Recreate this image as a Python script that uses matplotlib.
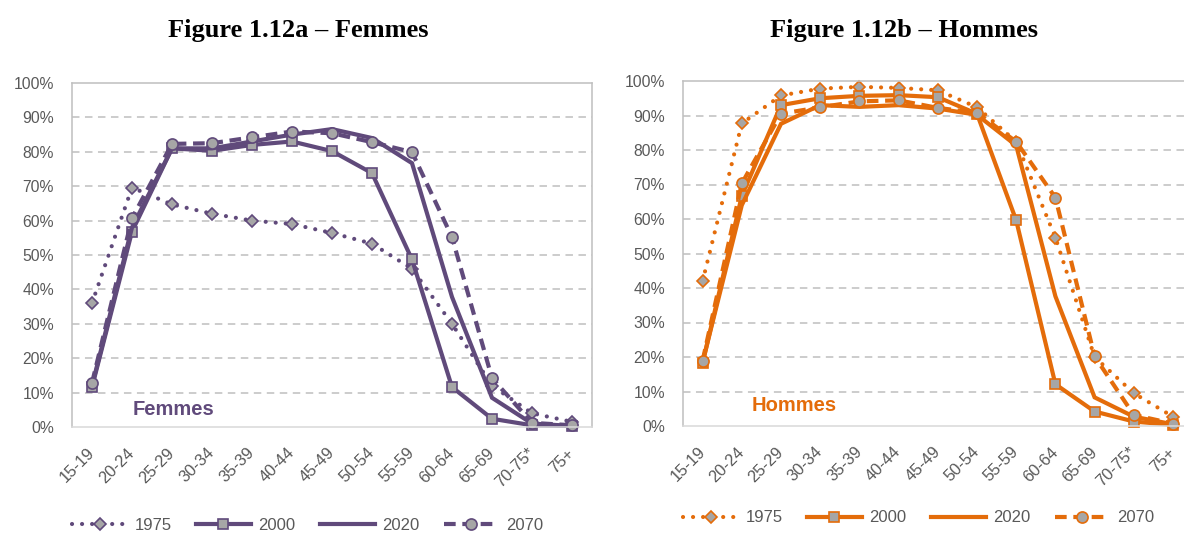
import matplotlib
matplotlib.use("Agg")
import matplotlib.pyplot as plt

ages = ['15-19', '20-24', '25-29', '30-34', '35-39', '40-44', '45-49',
        '50-54', '55-59', '60-64', '65-69', '70-75*', '75+']
years = ['1975', '2000', '2020', '2070']

f_1975 = [36, 69.6, 64.7, 62, 60, 59, 56.4, 53.3, 46, 30, 12, 4, 1.5]
f_2000 = [11.6, 56.8, 81, 80.3, 82, 83, 80.2, 73.8, 48.7, 11.6, 2.4, 0.5, 0.3]
f_2020 = [12, 58, 81, 81, 83, 85, 86.6, 84, 76.7, 37.8, 8.5, 1, 0.3]
f_2070 = [12.8, 60.7, 82.3, 82.5, 84.2, 85.9, 85.4, 82.8, 79.9, 55.2, 14.2, 1.2, 0.5]

h_1975 = [42, 87.7, 95.8, 97.8, 98.3, 98, 97.3, 92.4, 82.4, 54.6, 20, 9.5, 2.7]
h_2000 = [18.2, 66.7, 93, 95, 95.7, 95.9, 95.3, 90.5, 59.6, 12.1, 4.2, 1.3, 0.3]
h_2020 = [18.5, 64, 87.6, 93, 92.5, 93, 92, 90.2, 81.3, 37.6, 8.3, 2.7, 0.5]
h_2070 = [18.9, 70.3, 90.5, 92.4, 94.1, 94.4, 92.2, 90.8, 82.4, 66.2, 20.2, 3.2, 0.7]

yticks = list(range(0, 101, 10))

PURPLE = '#604A7B'
ORANGE = '#E46C0A'
GREY_FILL = '#A6A6A6'
TXT = '#595959'

plt.rcParams['font.family'] = ['Liberation Sans', 'DejaVu Sans']

W, H = 1184, 533
fig = plt.figure(figsize=(W / 100, H / 100), dpi=100)
fig.patch.set_facecolor('white')


def px_rect(x0, x1, y_top, y_bot):
    return [x0 / W, (H - y_bot) / H, (x1 - x0) / W, (y_bot - y_top) / H]


def styles(color):
    lw = 3.0
    return [
        dict(color=color, lw=lw, linestyle=(0, (0.01, 2.4)), dash_capstyle='round',
             marker='D', markersize=6.5, markerfacecolor=GREY_FILL,
             markeredgecolor=color, markeredgewidth=1.2),
        dict(color=color, lw=lw, linestyle='-', solid_joinstyle='miter',
             marker='s', markersize=7.5, markerfacecolor=GREY_FILL,
             markeredgecolor=color, markeredgewidth=1.2),
        dict(color=color, lw=lw, linestyle='-', solid_joinstyle='miter'),
        dict(color=color, lw=lw, linestyle=(0, (2.8, 1.6)), dash_capstyle='butt',
             marker='o', markersize=8, markerfacecolor=GREY_FILL,
             markeredgecolor=color, markeredgewidth=1.2),
    ]


def draw(rect, series, color, label, label_xy, title, title_x, legend_xy):
    ax = fig.add_axes(rect)
    x = list(range(len(ages)))
    st = styles(color)
    handles = []
    for s, yr, kw in zip(series, years, st):
        ln, = ax.plot(x, s, clip_on=False, label=yr, **kw)
        handles.append(ln)
    ax.set_xlim(-0.5, len(ages) - 0.5)
    ax.set_ylim(0, 100)
    ax.set_yticks(yticks)
    ax.set_yticklabels([f'{v}%' for v in yticks])
    ax.set_xticks(x)
    ax.set_xticklabels(ages, rotation=45, ha='right', va='center',
                       rotation_mode='anchor')
    ax.tick_params(axis='x', length=0, pad=17, labelsize=11.8, labelcolor=TXT)
    ax.tick_params(axis='y', length=0, pad=13, labelsize=11.3, labelcolor=TXT)
    ax.yaxis.grid(True, color='#BFBFBF', lw=1.1, linestyle=(0, (4.9, 3.6)))
    ax.set_axisbelow(True)
    gl = ax.get_ygridlines()
    gl[0].set_visible(False)
    gl[-1].set_visible(False)
    for k in ['left', 'top', 'right']:
        ax.spines[k].set_color('#BFBFBF')
        ax.spines[k].set_linewidth(1.1)
    ax.spines['bottom'].set_color('#D9D9D9')
    ax.spines['bottom'].set_linewidth(1.1)
    fig.text(label_xy[0] / W, (H - label_xy[1]) / H, label, color=color,
             fontsize=14.5, fontweight='bold', va='baseline', ha='left')
    fig.text(title_x / W, (H - 37) / H, title, fontsize=19, fontweight='bold',
             family='Liberation Serif', ha='center', va='baseline', color='black')
    fig.legend(handles=handles, loc='center left',
               bbox_to_anchor=(legend_xy[0] / W, (H - legend_xy[1]) / H),
               ncol=4, frameon=False, fontsize=12, handlelength=3.3,
               handletextpad=0.45, columnspacing=1.45, borderpad=0,
               borderaxespad=0, labelcolor=TXT, numpoints=1)
    return ax


draw(px_rect(72, 592, 83, 427), [f_1975, f_2000, f_2020, f_2070], PURPLE,
     'Femmes', (133, 415), 'Figure 1.12a \u2013 Femmes', 298, (72, 525))
draw(px_rect(683, 1192.6, 81, 426), [h_1975, h_2000, h_2020, h_2070], ORANGE,
     'Hommes', (752, 411), 'Figure 1.12b \u2013 Hommes', 904, (683, 518))

fig.savefig('out.png', dpi=100, facecolor='white')
